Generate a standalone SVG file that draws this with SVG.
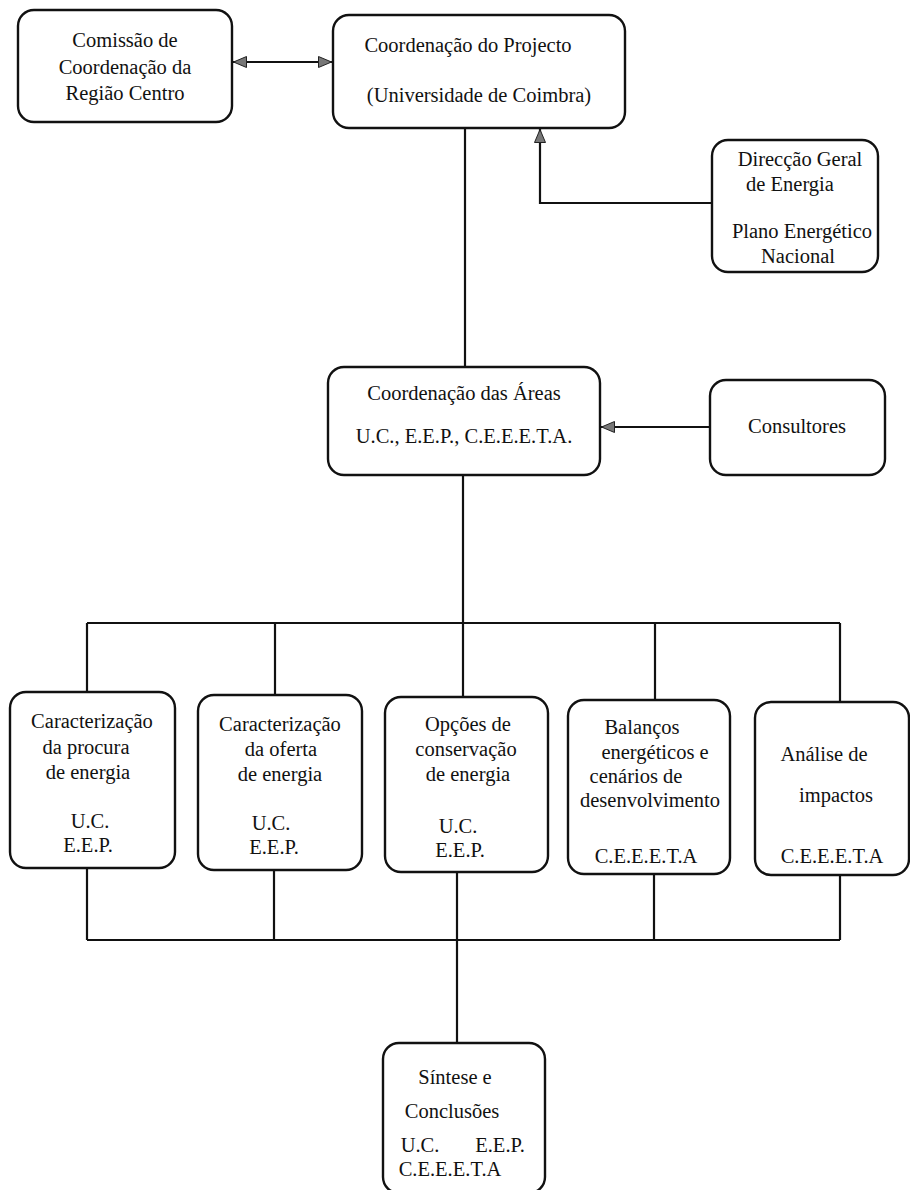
<svg xmlns="http://www.w3.org/2000/svg" width="910" height="1190" viewBox="0 0 910 1190">
<defs>
<marker id="ah" viewBox="0 0 14 12" refX="14" refY="6" markerWidth="14" markerHeight="12" markerUnits="userSpaceOnUse" orient="auto-start-reverse">
<path d="M0.5,0.5 L13.5,6 L0.5,11.5 Z" fill="#777" stroke="#222" stroke-width="1"/>
</marker>
</defs>
<style>
rect{fill:#fff;stroke:#111;stroke-width:2.4}
text{font-family:"Liberation Serif","Times New Roman",serif;font-size:20.5px;fill:#111;text-anchor:middle}
.c line,.c path{stroke:#111;stroke-width:2.2;fill:none}
</style>
<rect x="0" y="0" width="910" height="1190" style="stroke:none"/>
<g class="c" id="connectors">
<line x1="233" y1="62" x2="332" y2="62" marker-start="url(#ah)" marker-end="url(#ah)"/>
<line x1="465" y1="128" x2="465" y2="367"/>
<path d="M712,203 H540 V129" marker-end="url(#ah)"/>
<line x1="710" y1="427" x2="601" y2="427" marker-end="url(#ah)"/>
<line x1="463" y1="475" x2="463" y2="623"/>
<line x1="87" y1="623" x2="840" y2="623"/>
<line x1="87" y1="623" x2="87" y2="692"/>
<line x1="275" y1="623" x2="275" y2="695"/>
<line x1="463" y1="623" x2="463" y2="697"/>
<line x1="655" y1="623" x2="655" y2="700"/>
<line x1="840" y1="623" x2="840" y2="702"/>
<line x1="87" y1="868" x2="87" y2="940"/>
<line x1="274" y1="870" x2="274" y2="940"/>
<line x1="457" y1="872" x2="457" y2="1043"/>
<line x1="654" y1="874" x2="654" y2="940"/>
<line x1="840" y1="875" x2="840" y2="940"/>
<line x1="87" y1="940" x2="840" y2="940"/>
</g>
<g id="ccdr">
<rect x="18" y="10" width="214" height="112" rx="16"/>
<text x="125" y="47">Comissão de</text>
<text x="125" y="74">Coordenação da</text>
<text x="125" y="100">Região Centro</text>
</g>
<g id="coord-projecto">
<rect x="333" y="15" width="292" height="113" rx="16"/>
<text x="468" y="52">Coordenação do Projecto</text>
<text x="479" y="102">(Universidade de Coimbra)</text>
</g>
<g id="dge">
<rect x="712" y="140" width="166" height="132" rx="16"/>
<text x="800" y="166">Direcção Geral</text>
<text x="790" y="191">de Energia</text>
<text x="802" y="238">Plano Energético</text>
<text x="798" y="263">Nacional</text>
</g>
<g id="coord-areas">
<rect x="328" y="367" width="272" height="108" rx="16"/>
<text x="464" y="400">Coordenação das Áreas</text>
<text x="464" y="443">U.C., E.E.P., C.E.E.E.T.A.</text>
</g>
<g id="consultores">
<rect x="710" y="380" width="175" height="95" rx="16"/>
<text x="797" y="433">Consultores</text>
</g>
<g id="procura">
<rect x="10" y="692" width="165" height="176" rx="16"/>
<text x="92" y="728">Caracterização</text>
<text x="86" y="754">da procura</text>
<text x="88" y="779">de energia</text>
<text x="90" y="828">U.C.</text>
<text x="88" y="852">E.E.P.</text>
</g>
<g id="oferta">
<rect x="198" y="695" width="164" height="175" rx="16"/>
<text x="280" y="731">Caracterização</text>
<text x="281" y="756">da oferta</text>
<text x="280" y="781">de energia</text>
<text x="271" y="830">U.C.</text>
<text x="274" y="854">E.E.P.</text>
</g>
<g id="conservacao">
<rect x="385" y="697" width="163" height="175" rx="16"/>
<text x="468" y="731">Opções de</text>
<text x="466" y="756">conservação</text>
<text x="468" y="781">de energia</text>
<text x="458" y="833">U.C.</text>
<text x="460" y="857">E.E.P.</text>
</g>
<g id="balancos">
<rect x="568" y="700" width="162" height="174" rx="16"/>
<text x="642" y="734">Balanços</text>
<text x="655" y="759">energéticos e</text>
<text x="636" y="783">cenários de</text>
<text x="650" y="807">desenvolvimento</text>
<text x="646" y="863">C.E.E.E.T.A</text>
</g>
<g id="impactos">
<rect x="755" y="702" width="154" height="173" rx="16"/>
<text x="824" y="761">Análise de</text>
<text x="836" y="802">impactos</text>
<text x="832" y="863">C.E.E.E.T.A</text>
</g>
<g id="sintese">
<rect x="383" y="1043" width="162" height="150" rx="16"/>
<text x="455" y="1084">Síntese e</text>
<text x="452" y="1118">Conclusões</text>
<text x="420" y="1152">U.C.</text>
<text x="500" y="1152">E.E.P.</text>
<text x="450" y="1176">C.E.E.E.T.A</text>
</g>
</svg>
